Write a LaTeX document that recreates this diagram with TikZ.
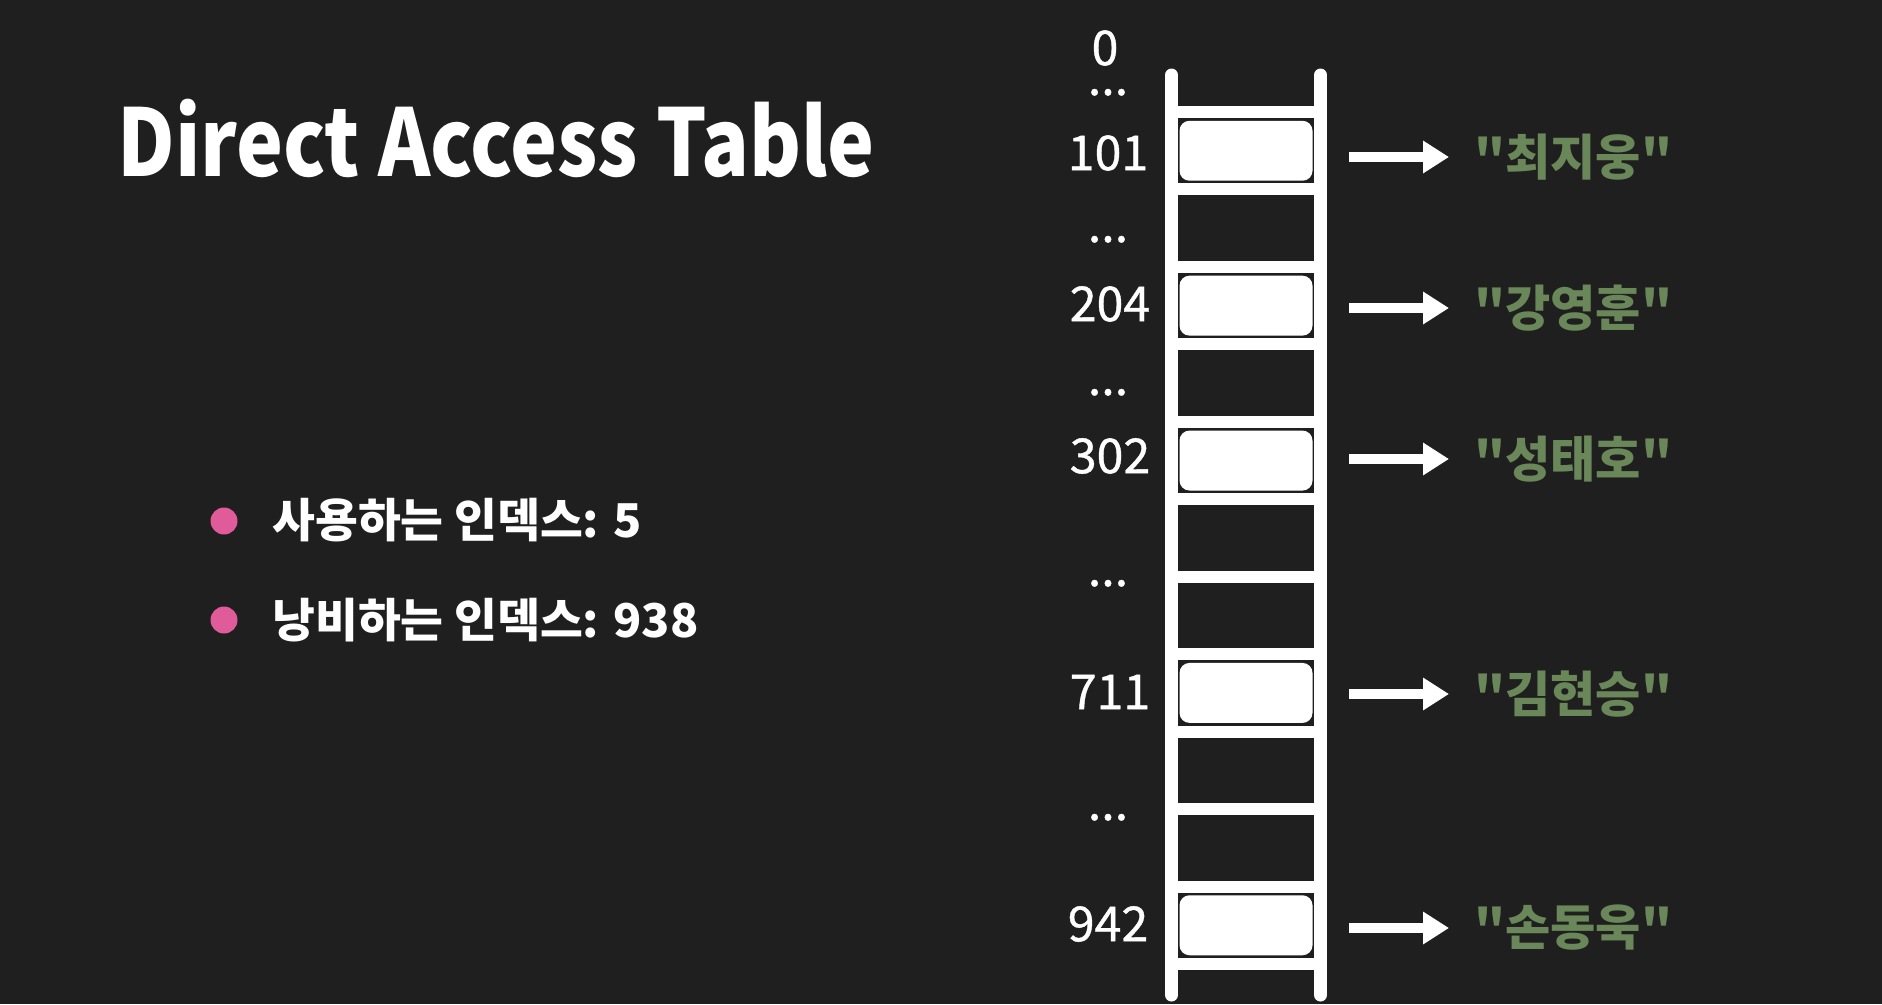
\documentclass[tikz,border=0pt]{standalone}
\usepackage{fontspec}
\setmainfont{Noto Sans CJK KR}
\newfontfamily\titlefont{Noto Sans CJK KR}[FakeStretch=0.85]
\newfontfamily\numfont{Noto Sans CJK KR}[FakeBold=0.8,Numbers=Proportional]
\usetikzlibrary{arrows.meta}
\definecolor{bg}{HTML}{1F1F1F}
\definecolor{strgreen}{HTML}{6A8759}
\definecolor{dotpink}{HTML}{DF5B99}

\begin{document}
\begin{tikzpicture}[x=0.02cm,y=-0.02cm,
    idx/.style={white,inner sep=0,font=\numfont\fontsize{27.5}{32}\selectfont},
    val/.style={strgreen,inner sep=0,anchor=west,font=\fontsize{28}{34}\selectfont\bfseries},
    cell/.style={fill=white,rounded corners=0.2cm,minimum width=2.66cm,minimum height=1.2cm,inner sep=0},
    arr/.style={white,line width=0.2cm,-{Triangle[length=0.52cm,width=0.62cm]},shorten <=0.73cm,shorten >=0.5cm},
    item/.style={white,inner sep=0,anchor=base west,font=\fontsize{26.5}{32}\selectfont\bfseries},
    bullet/.style={circle,fill=dotpink,minimum size=0.54cm,inner sep=0}]
    \fill[bg] (0,0) rectangle (1882,1004);
    \node[white,inner sep=0,anchor=base west,font=\titlefont\fontsize{53}{60}\selectfont\bfseries] (title) at (117,176) {Direct Access Table};
    % ladder
    \draw[white,line width=0.26cm,line cap=round] (1171.5,75)--(1171.5,995);
    \draw[white,line width=0.26cm,line cap=round] (1320.5,75)--(1320.5,995);
    \foreach \i in {0,...,11}
        \draw[white,line width=0.24cm] (1171.5,112+77.45*\i)--(1320.5,112+77.45*\i);
    \foreach \k/\c in {101/0,204/2,302/4,711/7,942/10}
        \node[cell] (b\k) at (1246,150.75+77.45*\c) {};
    % indices
    \node[idx] (i0) at (1105,48) {0};
    \node[idx] (i101) at (1108,153) {101};
    \node[idx] (i204) at (1110,304) {204};
    \node[idx] (i302) at (1110,456) {302};
    \node[idx] (i711) at (1110,692) {711};
    \node[idx] (i942) at (1108,924) {942};
    \node[idx,anchor=south] (d1) at (1108,96) {...};
    \node[idx,anchor=south] (d2) at (1108,243) {...};
    \node[idx,anchor=south] (d3) at (1108,396) {...};
    \node[idx,anchor=south] (d4) at (1108,587) {...};
    \node[idx,anchor=south] (d5) at (1108,821) {...};
    % values
    \node[val] (n101) at (1474,157) {\textquotedbl 최지웅\textquotedbl};
    \node[val] (n204) at (1474,308) {\textquotedbl 강영훈\textquotedbl};
    \node[val] (n302) at (1474,459) {\textquotedbl 성태호\textquotedbl};
    \node[val] (n711) at (1474,694) {\textquotedbl 김현승\textquotedbl};
    \node[val] (n942) at (1474,928) {\textquotedbl 손동욱\textquotedbl};
    \foreach \k in {101,204,302,711,942}
        \draw[arr] (b\k.east |- n\k) -- (n\k);
    % bullets
    \node[bullet] (dot1) at (224,521) {};
    \node[bullet] (dot2) at (224,620) {};
    \node[item] (used) at (272,537) {사용하는 인덱스: 5};
    \node[item] (wasted) at (272,637) {낭비하는 인덱스: 938};
\end{tikzpicture}
\end{document}
